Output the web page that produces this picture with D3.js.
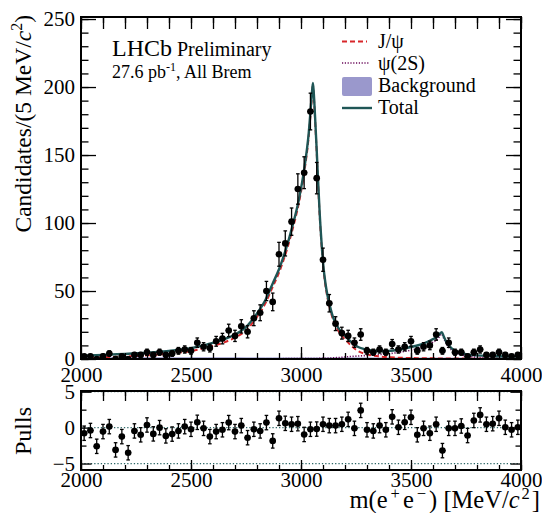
<!DOCTYPE html>
<html><head><meta charset="utf-8">
<script src="https://cdn.jsdelivr.net/npm/d3@7"></script>
<style>
html,body{margin:0;padding:0;background:#fff;}
svg{display:block;font-family:"Liberation Serif","Times New Roman",serif;}
</style></head><body>
<svg id="chart" width="542" height="513"></svg>
<script>
// e+e- invariant mass histogram: 70 bins over [2000, 4000] MeV/c^2
const massRange = [2000, 4000];
const nBins = 70;

// Candidates per bin
const counts = [2,2,0,2,4,0,2,0,3,3, 5,3,5,3,4,6,7,6,12,9, 8,13,15,21,17,24,20,30,34,50,
  42,77,85,101,125,137,182,133,73,41, 26,19,17,12,18,6,5,7,5,11, 7,9,13,6,9,10,18,6,12,5,
  5,2,5,7,3,3,5,3,2,3];

// Pull of each bin with respect to the total fit
const pulls = [-0.78,-0.4,-2.6,-0.55,0.14,-3.1,-1.25,-3.5,-0.46,-1.0,
  0.37,-0.87,0,-1.15,-0.9,-0.46,0.14,-0.23,0.74,-0.1,
  -1.25,-0.55,-0.3,0.7,-0.55,0.28,-1.4,-0.23,-0.46,0.7,
  -1.85,1.3,0.6,0.47,0.55,-0.95,-0.23,-0.2,0.47,0.28,
  0.28,0.47,1.15,-0.1,2.4,-0.3,-0.46,0.28,-0.3,1.5,
  0.05,0.74,1.44,-1.0,-0.1,-0.78,0.47,-3.2,-0.1,-0.1,
  0.23,-1.1,1.0,1.77,0.47,0.55,1.3,0.05,-0.3,0.05];

// Fit components sampled along the mass axis
const fitMass  = [2000,2100,2200,2300,2400,2500,2575,2650,2700,2750,2800,2840,2870,2900,2930,2960,2990,3015,3035,3048,3054,3058,3064,3071,3078,3085,3094,3102,3110,3120,3132,3145,3162,3180,3200,3225,3250,3300,3350,3400,3450,3500,3550,3590,3620,3640,3648,3662,3685,3715,3760,3850,4000];
const fitTotal = [2.4,3,3.8,4.6,6,8,10.8,14.5,18,23.5,33.5,44,55,66,80,97,117,140,166,192,203,196,178,155,130,107,84,68,57,47,38.5,31,25,20.5,17,13,9.8,6.8,5.9,6,7,8.8,11,13.8,16.5,19.8,17,12,7.8,5,3.2,2.2,1.8];
const fitJpsi  = [0.7,1.2,1.9,2.7,4,5.9,8.6,12.2,15.7,21,31,41.5,52.5,63.5,77.3,94.3,114.5,137.5,163.5,189.5,201,194,176,153,128,105,82.2,66.2,55.2,45.3,36.8,29.2,23,18.3,14.6,10.3,6.8,3.4,2,1.3,0.9,0.7,0.6,0.5,0.45,0.4,0.4,0.35,0.3,0.3,0.25,0.2,0.15];
const fitPsi2S = [0,0,0,0,0.05,0.05,0.1,0.1,0.1,0.15,0.15,0.2,0.2,0.2,0.25,0.25,0.3,0.3,0.35,0.35,0.35,0.35,0.4,0.4,0.4,0.45,0.5,0.5,0.55,0.6,0.7,0.8,1,1.2,1.5,1.8,2.1,2.6,3.1,3.9,5,6.5,8.6,11.5,14.5,18.3,15.5,10.8,6.5,3.8,2,0.9,0.5];
const fitBkg   = [0.9,0.89,0.88,0.87,0.86,0.85,0.84,0.83,0.83,0.82,0.82,0.81,0.81,0.8,0.8,0.8,0.8,0.79,0.79,0.79,0.79,0.79,0.79,0.79,0.79,0.78,0.78,0.78,0.78,0.78,0.78,0.77,0.77,0.77,0.77,0.76,0.76,0.75,0.74,0.73,0.72,0.71,0.7,0.69,0.69,0.68,0.68,0.68,0.67,0.67,0.66,0.64,0.6];

// Axis ticks and legend
const yTicksMain = [0,50,100,150,200,250];
const xTicksMajor = [2000,2500,3000,3500,4000];
const pullTicks = [-5,0,5];
const legendNames = ["J/\u03c8","\u03c8(2S)","Background","Total"];

const colTotal = "#1f5656", colJpsi = "#d8262a", colPsi = "#6a0a5a", colBkg = "#9a98cc";

const svg = d3.select("#chart");
const L = 81, R = 521, mainT = 17, mainB = 359, pullT = 391, pullB = 470;

const x = d3.scaleLinear().domain(massRange).range([L, R]);
const y = d3.scaleLinear().domain([0, 251.5]).range([mainB, mainT]);
const yp = d3.scaleLinear().domain([-5.9, 5.1]).range([pullB, pullT]);

const binW = (massRange[1] - massRange[0]) / nBins;
const bins = counts.map((c, i) => ({
  lo: massRange[0] + i * binW,
  hi: massRange[0] + (i + 1) * binW,
  m: massRange[0] + (i + 0.5) * binW,
  n: c, err: Math.sqrt(c), pull: pulls[i]
}));

svg.append("rect").attr("width", 542).attr("height", 513).attr("fill", "#fff");

svg.append("clipPath").attr("id", "clipMain").append("rect")
  .attr("x", L).attr("y", mainT).attr("width", R - L).attr("height", mainB - mainT);

const gMain = svg.append("g").attr("clip-path", "url(#clipMain)");
const fitPts = fitMass.map((m, i) => ({m, t: fitTotal[i], j: fitJpsi[i], p: fitPsi2S[i], b: fitBkg[i]}));

// background component (filled)
gMain.append("path").datum(fitPts)
  .attr("d", d3.area().x(d => x(d.m)).y0(y(0)).y1(d => y(d.b)).curve(d3.curveMonotoneX))
  .attr("fill", colBkg).attr("stroke", colBkg).attr("stroke-width", 1);

const line = key => d3.line().x(d => x(d.m)).y(d => y(d[key])).curve(d3.curveMonotoneX);

gMain.append("path").datum(fitPts).attr("d", line("p"))
  .attr("fill", "none").attr("stroke", colPsi).attr("stroke-width", 1.6).attr("stroke-dasharray", "1.2,1.6");
gMain.append("path").datum(fitPts).attr("d", line("j"))
  .attr("fill", "none").attr("stroke", colJpsi).attr("stroke-width", 2).attr("stroke-dasharray", "5,3");
gMain.append("path").datum(fitPts).attr("d", line("t"))
  .attr("fill", "none").attr("stroke", colTotal).attr("stroke-width", 2.4);

// data points with error bars
function drawPoints(g, data, yScale, val, lo, hi) {
  const pts = g.selectAll("g.pt").data(data).join("g").attr("class", "pt");
  pts.append("line")
    .attr("x1", d => x(d.m)).attr("x2", d => x(d.m))
    .attr("y1", d => yScale(lo(d))).attr("y2", d => yScale(hi(d)))
    .attr("stroke", "#000").attr("stroke-width", 1.3);
  pts.append("line")
    .attr("x1", d => x(d.lo)).attr("x2", d => x(d.hi))
    .attr("y1", d => yScale(val(d))).attr("y2", d => yScale(val(d)))
    .attr("stroke", "#000").attr("stroke-width", 1.3);
  ["lo", "hi"].forEach(k => {
    pts.append("line")
      .attr("x1", d => x(d.m) - 1.8).attr("x2", d => x(d.m) + 1.8)
      .attr("y1", d => yScale(k === "lo" ? lo(d) : hi(d)))
      .attr("y2", d => yScale(k === "lo" ? lo(d) : hi(d)))
      .attr("stroke", "#000").attr("stroke-width", 1.3);
  });
  pts.append("circle").attr("cx", d => x(d.m)).attr("cy", d => yScale(val(d)))
    .attr("r", 3.3).attr("fill", "#000");
}
drawPoints(gMain, bins, y, d => d.n, d => d.n - d.err, d => d.n + d.err);

// pulls panel
svg.append("clipPath").attr("id", "clipPull").append("rect")
  .attr("x", L).attr("y", pullT).attr("width", R - L).attr("height", pullB - pullT);
const gPull = svg.append("g").attr("clip-path", "url(#clipPull)");
gPull.selectAll("line.ref").data(pullTicks).join("line").attr("class", "ref")
  .attr("x1", L).attr("x2", R).attr("y1", d => yp(d)).attr("y2", d => yp(d))
  .attr("stroke", "#2e6868").attr("stroke-width", 1.3).attr("stroke-dasharray", "1.3,2");
drawPoints(gPull, bins, yp, d => d.pull, d => d.pull - 1, d => d.pull + 1);

// axes: ticks drawn inward on all four sides
function xAxes(top, bottom, major, minor, pad) {
  const style = g => { g.select(".domain").remove(); g.selectAll("line").attr("stroke", "#000").attr("stroke-width", 1.3); };
  const mk = (gen, ty, size, lab) => {
    const a = gen(x).tickValues(lab ? xTicksMajor : d3.range(2000, 4001, 100)).tickSize(size)
      .tickFormat(lab ? d3.format("d") : "").tickPadding(pad);
    return svg.append("g").attr("transform", `translate(0,${ty})`).call(a).call(style);
  };
  mk(d3.axisBottom, bottom, -minor, false);
  mk(d3.axisTop, top, -minor, false);
  mk(d3.axisTop, top, -major, false).selectAll("text").remove();
  return mk(d3.axisBottom, bottom, -major, true);
}
function yAxes(scale, majorVals, minorVals, major, minor, fmt) {
  const style = g => { g.select(".domain").remove(); g.selectAll("line").attr("stroke", "#000").attr("stroke-width", 1.3); };
  svg.append("g").attr("transform", `translate(${L},0)`)
    .call(d3.axisLeft(scale).tickValues(minorVals).tickSize(-minor).tickFormat("")).call(style);
  svg.append("g").attr("transform", `translate(${R},0)`)
    .call(d3.axisRight(scale).tickValues(minorVals).tickSize(-minor).tickFormat("")).call(style);
  const gl = svg.append("g").attr("transform", `translate(${L},0)`)
    .call(d3.axisLeft(scale).tickValues(majorVals).tickSize(-major).tickPadding(6).tickFormat(fmt)).call(style);
  svg.append("g").attr("transform", `translate(${R},0)`)
    .call(d3.axisRight(scale).tickValues(majorVals).tickSize(-major).tickFormat("")).call(style);
  return gl;
}

const gxMain = xAxes(mainT, mainB, 12, 6, 8);
const gxPull = xAxes(pullT, pullB, 10, 5, 2);
const gyMain = yAxes(y, yTicksMain, d3.range(0, 251, 10), 15, 7.5, d3.format("d"));
const gyPull = yAxes(yp, pullTicks, [-2.5, 2.5], 10.5, 5.5, d => d < 0 ? "\u2212" + Math.abs(d) : d);

[gxMain, gxPull, gyMain, gyPull].forEach(g => {
  g.attr("font-family", "Liberation Serif, serif").attr("font-size", 21);
  g.selectAll("text").attr("fill", "#000");
});

// frames
[[mainT, mainB], [pullT, pullB]].forEach(([t, b]) =>
  svg.append("rect").attr("x", L).attr("y", t).attr("width", R - L).attr("height", b - t)
    .attr("fill", "none").attr("stroke", "#000").attr("stroke-width", 2));

// axis titles
const yt = svg.append("text").attr("transform", "translate(31,15) rotate(-90)")
  .attr("text-anchor", "end").attr("font-size", 23.5);
yt.append("tspan").text("Candidates/(5 MeV/");
yt.append("tspan").attr("font-style", "italic").text("c");
yt.append("tspan").attr("font-size", 16).attr("dy", -9).text("2");
yt.append("tspan").attr("dy", 9).text(")");

svg.append("text").attr("transform", "translate(31,431) rotate(-90)")
  .attr("text-anchor", "middle").attr("font-size", 24).text("Pulls");

// x title with spaced superscripts
const xt = svg.append("text").attr("x", 540).attr("y", 508).attr("text-anchor", "end").attr("font-size", 24.5);
xt.append("tspan").text("m(e");
xt.append("tspan").attr("font-size", 16.5).attr("dx", 3).attr("dy", -9).text("+");
xt.append("tspan").attr("dx", 3).attr("dy", 9).text("e");
xt.append("tspan").attr("font-size", 16.5).attr("dx", 3).attr("dy", -9).text("\u2212");
xt.append("tspan").attr("dx", 3).attr("dy", 9).text(") [MeV/");
xt.append("tspan").attr("font-style", "italic").text("c");
xt.append("tspan").attr("font-size", 16.5).attr("dx", 2).attr("dy", -9).text("2");
xt.append("tspan").attr("dx", 2).attr("dy", 9).text("]");

// experiment label
const lab = svg.append("text").attr("x", 112).attr("y", 56);
lab.append("tspan").attr("font-size", 24).text("LHCb");
lab.append("tspan").attr("font-size", 20).text(" Preliminary");
const lab2 = svg.append("text").attr("x", 112).attr("y", 78).attr("font-size", 18);
lab2.append("tspan").text("27.6 pb");
lab2.append("tspan").attr("font-size", 12).attr("dy", -7).text("-1");
lab2.append("tspan").attr("dy", 7).text(", All Brem");

// legend
const lg = svg.append("g");
const rows = legendNames.map((name, i) => ({name, i, yb: 47.5 + 22 * i}));
lg.selectAll("text").data(rows).join("text")
  .attr("x", 378).attr("y", d => d.yb).attr("font-size", 20).text(d => d.name);
lg.append("line").attr("x1", 342).attr("x2", 367).attr("y1", 41.5).attr("y2", 41.5)
  .attr("stroke", colJpsi).attr("stroke-width", 2).attr("stroke-dasharray", "5,3");
lg.append("line").attr("x1", 342).attr("x2", 370).attr("y1", 63).attr("y2", 63)
  .attr("stroke", colPsi).attr("stroke-width", 1.6).attr("stroke-dasharray", "1.2,1.6");
lg.append("rect").attr("x", 342).attr("y", 77).attr("width", 30).attr("height", 19).attr("rx", 2)
  .attr("fill", colBkg);
lg.append("line").attr("x1", 342).attr("x2", 372).attr("y1", 108).attr("y2", 108)
  .attr("stroke", colTotal).attr("stroke-width", 2.4);
</script>
</body></html>
